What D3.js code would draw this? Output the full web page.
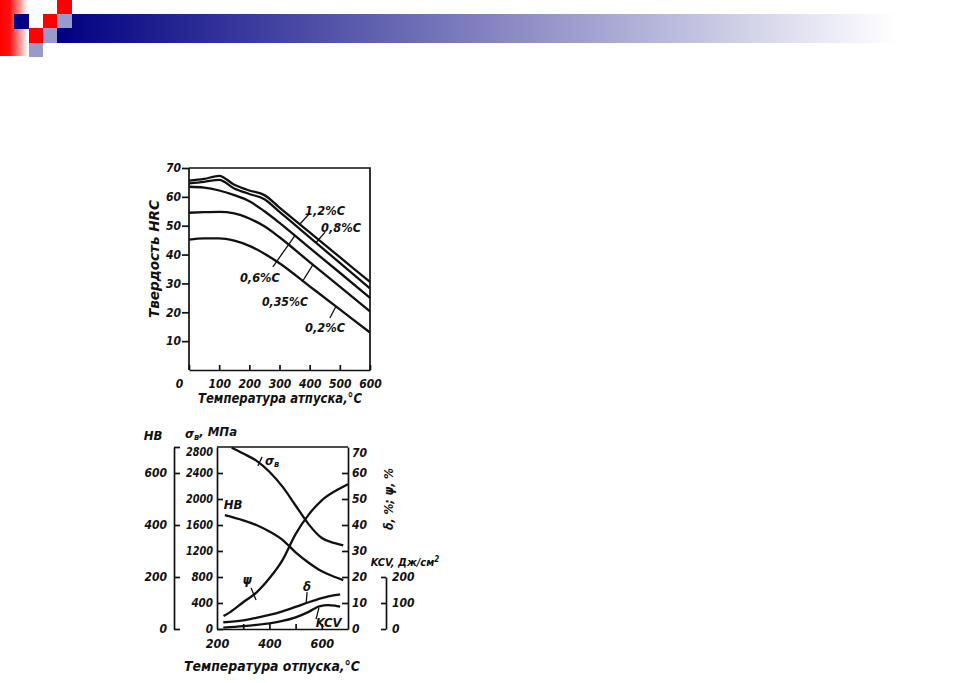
<!DOCTYPE html>
<html><head><meta charset="utf-8">
<script src="https://cdn.jsdelivr.net/npm/d3@7"></script>
<style>body{margin:0;background:#fff}svg{display:block}</style>
</head><body><svg id="c" width="960" height="683"></svg>
<script>
// ---------- DATA ----------
// Top chart: hardness HRC vs tempering temperature, by carbon content
const hrcTemps = [0, 50, 100, 150, 200, 250, 300, 400, 500, 600];
const hrc12  = [65.6, 66.2, 67.3, 64.2, 62.2, 60.6, 56.3, 47.7, 39.1, 30.5];
const hrc08  = [64.7, 65.2, 65.9, 62.9, 61.0, 59.2, 54.8, 46.0, 37.1, 28.3];
const hrc06  = [63.5, 63.2, 62.2, 60.6, 58.5, 55.0, 51.0, 42.3, 33.7, 25.0];
const hrc035 = [54.5, 54.7, 54.8, 54.3, 52.5, 49.8, 46.0, 37.4, 28.9, 20.3];
const hrc02  = [45.2, 45.6, 45.6, 44.8, 43.0, 40.3, 37.0, 29.0, 21.0, 13.0];
const hrcNames = ["1,2%C", "0,8%C", "0,6%C", "0,35%C", "0,2%C"];
// label anchor [T, HRC] and leader [T1,HRC1,T2,HRC2] in data units
const hrcLabelPos = [[451, 55.4], [504, 49.5], [235, 31.9], [318, 23.6], [451, 14.6]];
const hrcLeaders  = [[401, 54.4, 368, 50.6], [451, 47.8, 421, 44.1], [278, 35.7, 351, 46.6], [375, 30.5, 411, 36.5], [467, 18.0, 487, 22.0]];
const hrcTicks = [10, 20, 30, 40, 50, 60, 70];
const topTempTicks = [0, 100, 200, 300, 400, 500, 600];

// Bottom chart: mechanical properties vs tempering temperature
const sigmaT = [256, 300, 350, 400, 450, 500, 550, 600, 650, 682];
const sigmaV = [2790, 2700, 2590, 2420, 2190, 1900, 1610, 1400, 1320, 1285];   // MPa
const hbT = [230, 300, 350, 400, 450, 500, 550, 600, 650, 682];
const hbV = [438, 418, 400, 375, 343, 295, 255, 222, 200, 188];                // HB
const psiT = [225, 250, 300, 350, 400, 450, 500, 550, 600, 650, 700];
const psiV = [5, 6.5, 10.3, 14, 19.5, 26.5, 36.5, 44, 49.5, 53, 55.7];         // %
const deltaT = [224, 300, 350, 400, 450, 500, 550, 600, 650, 670];
const deltaV = [2.6, 3.3, 4.3, 5.4, 6.8, 8.5, 10.3, 11.9, 13, 13.3];           // %
const kcvT = [224, 300, 350, 400, 450, 500, 550, 590, 625, 650, 670];
const kcvV = [5, 11, 16, 22, 31, 45, 66, 87, 92, 90, 86];                      // J/cm2
const hbTicks = [0, 200, 400, 600, 700];
const sigmaTicks = [0, 400, 800, 1200, 1600, 2000, 2400, 2800];
const pctTicks = [0, 10, 20, 30, 40, 50, 60, 70];
const kcvTicks = [0, 100, 200];
const botTempTicks = [200, 300, 400, 500, 600, 700];
const botTempLabels = [200, 400, 600];

// ---------- DRAW ----------
const svg = d3.select("#c");
const FONT = "'DejaVu Sans Condensed','Liberation Sans Narrow','Liberation Sans',sans-serif";
const WEIGHT = "bold";
const defs = svg.append("defs");
const fmt = d3.format("d");

// header decoration
const gBar = defs.append("linearGradient").attr("id", "gbar").attr("x1", "0").attr("x2", "1");
gBar.append("stop").attr("offset", "0").attr("stop-color", "#000080");
gBar.append("stop").attr("offset", "0.93").attr("stop-color", "#ffffff");
gBar.append("stop").attr("offset", "1").attr("stop-color", "#ffffff");
const gRed = defs.append("linearGradient").attr("id", "gred").attr("x1", "0").attr("x2", "1");
gRed.append("stop").attr("offset", "0").attr("stop-color", "#ff0000");
gRed.append("stop").attr("offset", "0.35").attr("stop-color", "#ff1010");
gRed.append("stop").attr("offset", "1").attr("stop-color", "#ffffff");
svg.append("rect").attr("x", 0).attr("y", 0).attr("width", 28).attr("height", 56).attr("fill", "url(#gred)");
svg.append("rect").attr("x", 57).attr("y", 14).attr("width", 903).attr("height", 29).attr("fill", "url(#gbar)");
const squares = [[14,14,15,15,"#000080"],[43,14,14,14,"#ff0000"],[57,0,15,14,"#ff0000"],[57,14,15,14,"#9999cc"],
                 [29,28,14,15,"#ff0000"],[43,28,14,15,"#9999cc"],[29,43,14,14,"#9999cc"]];
svg.selectAll("rect.sq").data(squares).enter().append("rect").attr("class","sq")
  .attr("x", d => d[0]).attr("y", d => d[1]).attr("width", d => d[2]).attr("height", d => d[3]).attr("fill", d => d[4]);

function styleText(sel, size) {
  return sel.attr("font-family", FONT).attr("font-style", "italic").attr("font-weight", WEIGHT)
    .attr("font-size", size).attr("fill", "#111");
}
function styleAxis(g, size) {
  styleText(g.selectAll("text"), size);
  g.selectAll("line,path").attr("stroke", "#111").attr("stroke-width", 1.7);
}

// ---------- TOP CHART ----------
const xT = d3.scaleLinear().domain([0, 600]).range([189, 370]);
const yT = d3.scaleLinear().domain([0, 70]).range([370, 168]);
const gTop = svg.append("g");

gTop.append("path").attr("d", `M${xT(0)},${yT(70)}H${xT(600)}V${yT(0)}`).attr("fill", "none").attr("stroke", "#111").attr("stroke-width", 1.7);

const gyT = gTop.append("g").attr("transform", `translate(${xT(0)},0)`)
  .call(d3.axisLeft(yT).tickValues(hrcTicks).tickSize(7).tickSizeOuter(0).tickPadding(1).tickFormat(fmt));
styleAxis(gyT, 12);
gyT.select("path.domain").attr("d", `M0,${yT(0)}V${yT(70)}`);

const gxT = gTop.append("g").attr("transform", `translate(0,${yT(0)})`)
  .call(d3.axisBottom(xT).tickValues(topTempTicks).tickSize(-5).tickSizeOuter(0).tickPadding(9).tickFormat(fmt));
styleAxis(gxT, 12);
gxT.selectAll(".tick").filter(d => d === 0).select("text").attr("dx", "-10");

const lineT = d3.line().x((d, i) => xT(hrcTemps[i])).y(d => yT(d)).curve(d3.curveMonotoneX);
[hrc12, hrc08, hrc06, hrc035, hrc02].forEach(s => {
  gTop.append("path").attr("d", lineT(s)).attr("fill", "none").attr("stroke", "#111").attr("stroke-width", 2.3);
});
hrcLeaders.forEach(l => {
  gTop.append("line").attr("x1", xT(l[0])).attr("y1", yT(l[1])).attr("x2", xT(l[2])).attr("y2", yT(l[3]))
    .attr("stroke", "#111").attr("stroke-width", 1.3);
});
hrcNames.forEach((n, i) => {
  styleText(gTop.append("text").attr("x", xT(hrcLabelPos[i][0])).attr("y", yT(hrcLabelPos[i][1])).attr("dy", "0.35em")
    .attr("text-anchor", "middle"), 12.5).attr("textLength", n.length > 5 ? 46 : 40).attr("lengthAdjust", "spacingAndGlyphs").text(n);
});
styleText(gTop.append("text").attr("transform", "translate(154,259) rotate(-90)").attr("text-anchor", "middle").attr("dy", "0.35em"), 14)
  .attr("textLength", 118).attr("lengthAdjust", "spacingAndGlyphs").text("Твердость HRC");
styleText(gTop.append("text").attr("x", 280).attr("y", 398).attr("text-anchor", "middle").attr("dy", "0.35em"), 14)
  .attr("textLength", 164).attr("lengthAdjust", "spacingAndGlyphs").text("Температура атпуска,°С");

// ---------- BOTTOM CHART ----------
const xB = d3.scaleLinear().domain([200, 700]).range([217, 348]);
const yS = d3.scaleLinear().domain([0, 2800]).range([629, 447]);
const yHB = d3.scaleLinear().domain([0, 700]).range([629, 447]);
const yP = d3.scaleLinear().domain([0, 70]).range([629, 447]);
const yK = d3.scaleLinear().domain([0, 200]).range([yP(0), yP(20)]);
const bot = svg.append("g");

// frame top
bot.append("line").attr("x1", xB(200)).attr("x2", xB(700)).attr("y1", yS(2800)).attr("y2", yS(2800))
  .attr("stroke", "#111").attr("stroke-width", 1.7);

const gHB = bot.append("g").attr("transform", "translate(174,0)")
  .call(d3.axisLeft(yHB).tickValues(hbTicks).tickSize(-6).tickSizeOuter(0).tickPadding(7)
    .tickFormat(d => d === 700 ? "" : fmt(d)));
styleAxis(gHB, 12);

const gS = bot.append("g").attr("transform", `translate(${xB(200)},0)`)
  .call(d3.axisLeft(yS).tickValues(sigmaTicks).tickSize(-6).tickSizeOuter(0).tickPadding(4).tickFormat(fmt));
styleAxis(gS, 11.5);
gS.selectAll(".tick text").attr("textLength", d => d >= 1000 ? 27 : null).attr("lengthAdjust", "spacingAndGlyphs");
gS.selectAll(".tick").filter(d => d === 2800).select("line").remove();
gS.selectAll(".tick").filter(d => d === 2800).select("text").attr("dy", "0.75em");

const gP = bot.append("g").attr("transform", `translate(${xB(700)},0)`)
  .call(d3.axisRight(yP).tickValues(pctTicks).tickSize(-6).tickSizeOuter(0).tickPadding(4).tickFormat(fmt));
styleAxis(gP, 12);
gP.selectAll(".tick").filter(d => d === 70 || d === 0).select("line").remove();
gP.selectAll(".tick").filter(d => d === 70).select("text").attr("dy", "0.75em");

const gK = bot.append("g").attr("transform", "translate(386,0)")
  .call(d3.axisRight(yK).tickValues(kcvTicks).tickSize(-5).tickSizeOuter(0).tickPadding(6).tickFormat(fmt));
styleAxis(gK, 12);

const gxB = bot.append("g").attr("transform", `translate(0,${yS(0)})`)
  .call(d3.axisBottom(xB).tickValues(botTempTicks).tickSize(-5).tickSizeOuter(0).tickPadding(10)
    .tickFormat(d => botTempLabels.includes(d) ? fmt(d) : ""));
styleAxis(gxB, 12.5);
gxB.selectAll(".tick").filter(d => d === 200 || d === 700).select("line").remove();

function series(tArr, yScale) {
  return d3.line().x((d, i) => xB(tArr[i])).y(d => yScale(d)).curve(d3.curveMonotoneX);
}
[[sigmaV, sigmaT, yS], [hbV, hbT, yHB], [psiV, psiT, yP], [deltaV, deltaT, yP], [kcvV, kcvT, yK]].forEach(s => {
  bot.append("path").attr("d", series(s[1], s[2])(s[0])).attr("fill", "none").attr("stroke", "#111").attr("stroke-width", 2.3);
});

// curve labels (positions in data units: T, %)
const botLabels = [
  {t: 410, p: 65, txt: "σ", sub: "в"},
  {t: 261, p: 48, txt: "HB"},
  {t: 315, p: 19.2, txt: "ψ"},
  {t: 544, p: 16.5, txt: "δ"},
  {t: 626, p: 2.4, txt: "KCV"}
];
const botLeaders = [[372, 66.2, 356, 62.7], [330, 15.8, 349, 11.2], [544, 14.2, 540, 9.6], [578, 3.8, 589, 8.1]];
botLeaders.forEach(l => {
  bot.append("line").attr("x1", xB(l[0])).attr("y1", yP(l[1])).attr("x2", xB(l[2])).attr("y2", yP(l[3]))
    .attr("stroke", "#111").attr("stroke-width", 1.3);
});
botLabels.forEach(l => {
  const t = styleText(bot.append("text").attr("x", xB(l.t)).attr("y", yP(l.p)).attr("dy", "0.35em").attr("text-anchor", "middle"), 13).text(l.txt);
  if (l.sub) t.append("tspan").attr("font-size", 9).attr("dy", "0.3em").text(l.sub);
});

// axis titles
function title(x, y, size, len, rot) {
  const t = styleText(bot.append("text").attr("transform", `translate(${x},${y})` + (rot ? ` rotate(${rot})` : ""))
    .attr("text-anchor", "middle").attr("dy", "0.35em"), size);
  if (len) t.attr("textLength", len).attr("lengthAdjust", "spacingAndGlyphs");
  return t;
}
title(153, 435, 13).text("HB");
const st = title(211, 433, 13); st.text("σ"); st.append("tspan").attr("font-size", 9).attr("dy", "0.3em").text("в");
st.append("tspan").attr("dy", "-0.3em").text(", МПа");
title(389, 499, 12, 62, -90).text("δ, %; ψ, %");
const kt = title(405, 562, 11); kt.text("KCV, Дж/см"); kt.append("tspan").attr("font-size", 8).attr("dy", "-0.5em").text("2");
title(272, 666, 14, 176).text("Температура отпуска,°С");
</script></body></html>
